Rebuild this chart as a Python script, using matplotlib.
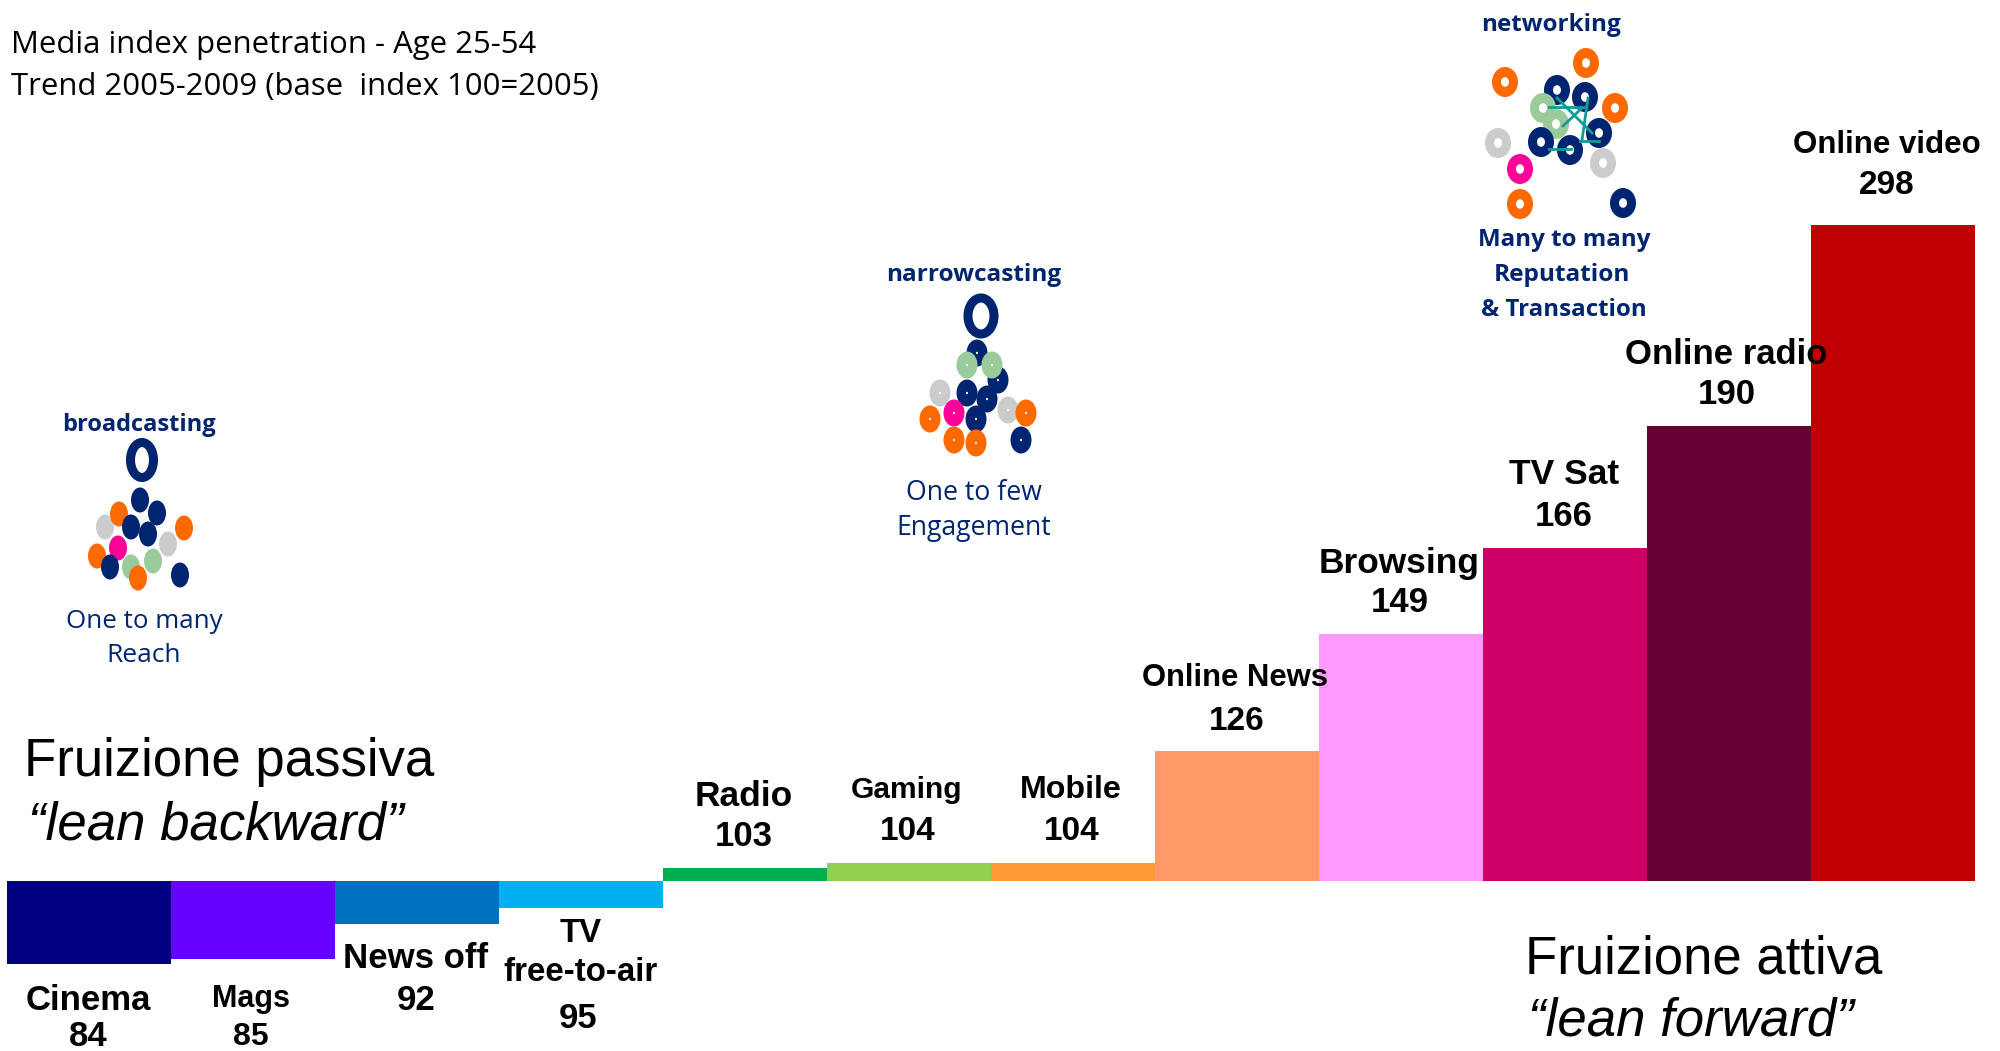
import numpy as np
import matplotlib
matplotlib.use('Agg')
import matplotlib.pyplot as plt
from matplotlib.patches import Ellipse

# index values, base 100 = 2005
categories = ["Cinema", "Mags", "News off", "TV\nfree-to-air", "Radio", "Gaming", "Mobile",
              "Online News", "Browsing", "TV Sat", "Online radio", "Online video"]
values = [84, 85, 92, 95, 103, 104, 104, 126, 149, 166, 190, 298]
bar_colors = ["#000080", "#6600FF", "#0070C0", "#00B0F0", "#00B050", "#92D050", "#FF9933",
              "#FF9966", "#FF99FF", "#CC0066", "#660033", "#C00000"]
# the last bar is cut short in the original, it does not reach 298
bar_cap = 229.6
# the bars hang off a line drawn just above 100
bar_base = 100.4

# label centres in image pixels: name, number
name_xy = [(88, 1000), (251, 999), (416, 958), (581, 953), (744, 796), (907, 790), (1071, 790),
           (1235, 678), (1399, 564), (1564, 475), (1726, 355), (1887, 145)]
num_xy = [(88, 1037), (251, 1037), (416, 1000), (578, 1018), (744, 837), (908, 832), (1072, 832),
          (1237, 721), (1400, 603), (1564, 517), (1727, 395), (1887, 185)]
name_size = [25, 22, 25, 23.8, 25.5, 21.5, 23.2, 22.3, 25.4, 25.5, 25, 22.5]
num_size = [25, 23, 25, 25, 25, 24, 24, 24, 25, 25, 25, 24]

NAVY = "#002570"
ORANGE = "#FF6A00"
GREY = "#CCCCCC"
GREEN = "#9BCB9B"
PINK = "#FF0099"

# icon dots
broad_dots = [(140, 500, NAVY), (105, 527, GREY), (119, 514, ORANGE), (157, 513, NAVY),
              (131, 527, NAVY), (148, 534, NAVY), (184, 528, ORANGE), (168, 544, GREY),
              (118, 548, PINK), (97, 556, ORANGE), (153, 561, GREEN), (110, 567, NAVY),
              (131, 567, GREEN), (138, 578, ORANGE), (180, 575, NAVY)]
narrow_dots = [(977, 353, NAVY), (998, 380, NAVY), (967, 365, GREEN), (992, 365, GREEN),
               (940, 393, GREY), (967, 393, NAVY), (987, 399, NAVY), (1008, 410, GREY),
               (1026, 413, ORANGE), (930, 419, ORANGE), (954, 413, PINK), (976, 419, NAVY),
               (954, 440, ORANGE), (976, 443, ORANGE), (1021, 440, NAVY)]
net_dots = [(1586, 63, ORANGE), (1505, 82, ORANGE), (1557, 90, NAVY), (1585, 97, NAVY),
            (1615, 108, ORANGE), (1543, 108, GREEN), (1556, 124, GREEN), (1599, 133, NAVY),
            (1498, 143, GREY), (1541, 142, NAVY), (1570, 150, NAVY), (1603, 163, GREY),
            (1520, 169, PINK), (1520, 204, ORANGE), (1623, 203, NAVY)]
net_links = [((1549, 107), (1585, 107)), ((1557, 98), (1592, 133)), ((1588, 98), (1582, 140)),
             ((1563, 126), (1582, 108)), ((1580, 141), (1599, 141)), ((1549, 149), (1571, 149))]

plt.rcParams['font.family'] = ['Liberation Sans', 'DejaVu Sans']

fig = plt.figure(figsize=(20, 10.51), dpi=100)

# bars, 1 index point is about 5.08 pixels, 1 category is 164 pixels
ax = fig.add_axes([0, 0, 1, 1])
x = np.arange(len(values))
tops = np.minimum(values, bar_cap)
ax.bar(x, tops - bar_base, bottom=bar_base, width=1.0, color=bar_colors, linewidth=0)
ax.set_xlim(-88.5 / 164, (2000 - 88.5) / 164)
ax.set_ylim(100 - 168 / 5.08, 100 + 883 / 5.08)
ax.axis('off')

# everything else sits on top in image pixels
top = fig.add_axes([0, 0, 1, 1])
top.set_xlim(0, 2000)
top.set_ylim(1051, 0)
top.axis('off')
top.patch.set_alpha(0)

for i in range(len(values)):
  top.text(name_xy[i][0], name_xy[i][1], categories[i], fontsize=name_size[i], fontweight='bold',
           ha='center', va='center', color='black', linespacing=1.35)
  top.text(num_xy[i][0], num_xy[i][1], str(values[i]), fontsize=num_size[i], fontweight='bold',
           ha='center', va='center', color='black')


def dots(points, w, h, hole=0):
  for n, (px, py, col) in enumerate(points):
    top.add_patch(Ellipse((px, py), w, h, facecolor=col, edgecolor='none', zorder=2 + n * 0.01))
    if hole:
      top.add_patch(Ellipse((px, py), hole, hole * 1.2, facecolor='white', edgecolor='none',
                            zorder=2 + n * 0.01 + 0.005))


def ring(px, py, w, h, lw):
  top.add_patch(Ellipse((px, py), w, h, facecolor='white', edgecolor=NAVY, linewidth=lw, zorder=2))


ring(142, 460, 23, 35, 6.5)
dots(broad_dots, 18, 25)
ring(981, 316, 26, 36, 6.5)
dots(narrow_dots, 21, 27, 2)
dots(net_dots, 26, 30, 8)
for a, b in net_links:
  top.plot([a[0], b[0]], [a[1], b[1]], color="#109C96", lw=2, zorder=3)


def icon_text(px, py, s, size, bold=False):
  top.text(px, py, s, fontsize=size, color=NAVY, ha='center', va='center',
           family='Open Sans', fontweight='bold' if bold else 'normal')


icon_text(139, 425, "broadcasting", 17, True)
icon_text(144, 622, "One to many", 18.6)
icon_text(144, 656, "Reach", 19)
icon_text(974, 275, "narrowcasting", 17.6, True)
icon_text(974, 493, "One to few", 19.2)
icon_text(974, 528, "Engagement", 19.2)
icon_text(1551, 25, "networking", 17.5, True)
icon_text(1564, 240, "Many to many", 17.4, True)
icon_text(1562, 275, "Reputation", 17.6, True)
icon_text(1564, 310, "& Transaction", 17.4, True)

top.text(11, 45, "Media index penetration - Age 25-54", fontsize=22.4, family='Open Sans',
         ha='left', va='center')
top.text(11, 87, "Trend 2005-2009 (base  index 100=2005)", fontsize=22.4, family='Open Sans',
         ha='left', va='center')

top.text(24, 762, "Fruizione passiva", fontsize=38, ha='left', va='center')
top.text(28, 826, "\u201clean backward\u201d", fontsize=38, style='italic', ha='left', va='center')
top.text(1525, 960, "Fruizione attiva", fontsize=38, ha='left', va='center')
top.text(1528, 1022, "\u201clean forward\u201d", fontsize=38, style='italic', ha='left', va='center')

plt.savefig("out.png", dpi=100)
plt.close()
